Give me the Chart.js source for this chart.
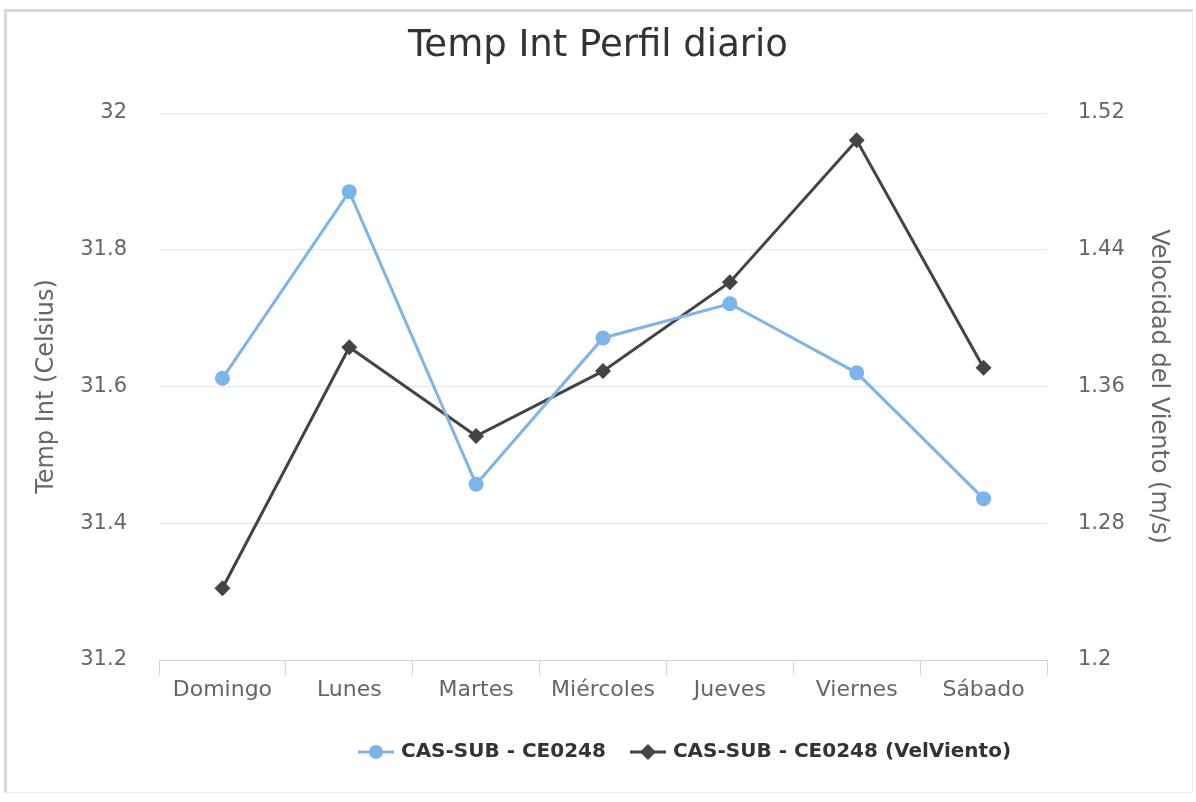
<!DOCTYPE html>
<html>
<head>
<meta charset="utf-8">
<script src="https://cdn.jsdelivr.net/npm/chart.js@4"></script>
<style>
  html, body { margin: 0; padding: 0; background: #fff; }
  #frame { position: absolute; left: 4px; top: 9px; width: 1185px; height: 780px;
           border-top: 3px solid #d9d9d9; border-left: 3px solid #d9d9d9;
           border-right: 1px solid #eeeeee; border-bottom: 1px solid #eeeeee; }
  #wrap { position: absolute; left: 0; top: 0; width: 1196px; height: 802px; }
</style>
</head>
<body>
<div id="frame"></div>
<div id="wrap"><canvas id="c"></canvas></div>
<script>
const days = ['Domingo', 'Lunes', 'Martes', 'Miércoles', 'Jueves', 'Viernes', 'Sábado'];
const tempInt = [31.612, 31.885, 31.457, 31.671, 31.721, 31.620, 31.436];
const velViento = [1.242, 1.383, 1.331, 1.369, 1.421, 1.504, 1.371];
const seriesNames = ['CAS-SUB - CE0248', 'CAS-SUB - CE0248 (VelViento)'];
const chartTitle = 'Temp Int Perfil diario';
const leftAxisTitle = 'Temp Int (Celsius)';
const rightAxisTitle = 'Velocidad del Viento (m/s)';

const BLUE = '#7cb5ec';
const DARK = '#434348';
const FONT = "'DejaVu Sans', sans-serif";

function legendIcon(color, shape) {
  const cv = document.createElement('canvas');
  cv.width = 36; cv.height = 18;
  const g = cv.getContext('2d');
  g.strokeStyle = color; g.lineWidth = 3;
  g.beginPath(); g.moveTo(0, 9); g.lineTo(36, 9); g.stroke();
  g.fillStyle = color;
  g.beginPath();
  if (shape === 'circle') { g.arc(18, 9, 7, 0, Math.PI * 2); }
  else { g.moveTo(18, 1); g.lineTo(26, 9); g.lineTo(18, 17); g.lineTo(10, 9); g.closePath(); }
  g.fill();
  return cv;
}
const icons = [legendIcon(BLUE, 'circle'), legendIcon(DARK, 'diamond')];

const fmt = v => String(Number(Number(v).toFixed(2)));

const legendShift = {
  id: 'legendShift',
  afterLayout(chart) {
    if (chart.legend) { chart.legend.left += 88; chart.legend.right += 88; }
  }
};

new Chart(document.getElementById('c'), {
  type: 'line',
  data: {
    labels: days,
    datasets: [
      { label: seriesNames[0], data: tempInt, yAxisID: 'y',
        borderColor: BLUE, backgroundColor: BLUE, borderWidth: 3,
        pointStyle: 'circle', pointRadius: 7.5, pointHoverRadius: 7.5,
        pointBackgroundColor: BLUE, pointBorderWidth: 0, tension: 0 },
      { label: seriesNames[1], data: velViento, yAxisID: 'y1',
        borderColor: DARK, backgroundColor: DARK, borderWidth: 3,
        pointStyle: 'rectRot', pointRadius: 8, pointHoverRadius: 8,
        pointBackgroundColor: DARK, pointBorderWidth: 0, tension: 0 }
    ]
  },
  options: {
    responsive: true,
    maintainAspectRatio: false,
    animation: false,
    layout: { padding: { left: 0, right: 0, top: 0, bottom: 30 } },
    plugins: {
      title: { display: true, text: chartTitle, color: '#333333',
               font: { family: FONT, size: 37, weight: 'normal' },
               padding: { top: 24.5, bottom: 44.1 } },
      legend: { position: 'bottom', align: 'center',
        labels: { usePointStyle: true, pointStyleWidth: 30, boxHeight: 16, padding: 27,
                  color: '#333333', font: { family: FONT, size: 20, weight: 'bold' },
                  generateLabels(chart) {
                    return chart.data.datasets.map((ds, i) => ({
                      text: ds.label, pointStyle: icons[i], fillStyle: ds.borderColor,
                      strokeStyle: ds.borderColor, lineWidth: 0, hidden: false,
                      datasetIndex: i, fontColor: '#333333'
                    }));
                  } } },
      tooltip: { enabled: false }
    },
    scales: {
      x: {
        type: 'category', offset: true,
        grid: { offset: true, drawOnChartArea: false, drawTicks: true, tickLength: 15, color: '#ccd6eb' },
        border: { display: true, color: '#ccd6eb', width: 1 },
        ticks: { color: '#666666', font: { family: FONT, size: 22 }, padding: 2, maxRotation: 0, autoSkip: false },
        afterFit(s) { s.height = 55; }
      },
      y: {
        position: 'left', min: 31.2, max: 32,
        ticks: { stepSize: 0.2, color: '#666666', font: { family: FONT, size: 21 }, padding: 32, callback: fmt },
        grid: { color: '#e6e6e6', drawTicks: false, lineWidth: 1 },
        border: { display: false },
        title: { display: true, text: leftAxisTitle, color: '#666666',
                 font: { family: FONT, size: 24 }, padding: { top: 32.6, bottom: 0 } },
        afterFit(s) { s.width = 159; }
      },
      y1: {
        position: 'right', min: 1.2, max: 1.52,
        ticks: { stepSize: 0.08, color: '#666666', font: { family: FONT, size: 21 }, padding: 31, callback: fmt },
        grid: { drawOnChartArea: false, drawTicks: false },
        border: { display: false },
        title: { display: true, text: rightAxisTitle, color: '#666666',
                 font: { family: FONT, size: 24 }, padding: { top: 23.6, bottom: 0 } },
        afterFit(s) { s.width = 149; }
      }
    }
  },
  plugins: [legendShift]
});
</script>
</body>
</html>
